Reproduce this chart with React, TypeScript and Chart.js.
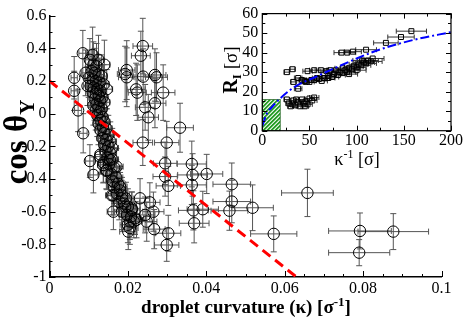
import React, { useEffect, useRef } from 'react';
import { Chart, registerables } from 'chart.js';
Chart.register(...registerables);

const W = 463;
const H = 320;
const SERIF = "'Liberation Serif', 'Times New Roman', serif";

// ---- main panel: rows of [kappa, cosTheta, kappaErr, cosErr] ----
const leftOutliers = [
  [0.0085, 0.37, 0.0010, 0.14], [0.0063, 0.22, 0.0008, 0.13], [0.0063, 0.14, 0.0008, 0.12],
  [0.0073, 0.02, 0.0009, 0.13], [0.0086, -0.12, 0.0010, 0.12], [0.0092, 0.25, 0.0010, 0.14],
  [0.0097, 0.17, 0.0010, 0.12], [0.0103, -0.29, 0.0011, 0.10], [0.0112, -0.375, 0.0012, 0.11],
  [0.0129, -0.263, 0.0013, 0.10],
];
const denseCluster = [
  [0.0110, 0.36, 0.0012, 0.17], [0.0125, 0.33, 0.0013, 0.15], [0.0140, 0.30, 0.0014, 0.15],
  [0.0103, 0.33, 0.0011, 0.13], [0.0112, 0.30, 0.0012, 0.14], [0.0120, 0.29, 0.0013, 0.14],
  [0.0108, 0.26, 0.0011, 0.13], [0.0115, 0.25, 0.0012, 0.15], [0.0125, 0.24, 0.0013, 0.12],
  [0.0133, 0.23, 0.0014, 0.13], [0.0100, 0.22, 0.0011, 0.12], [0.0110, 0.21, 0.0012, 0.14],
  [0.0118, 0.20, 0.0012, 0.13], [0.0128, 0.19, 0.0013, 0.15], [0.0138, 0.18, 0.0014, 0.12],
  [0.0105, 0.17, 0.0011, 0.13], [0.0113, 0.16, 0.0012, 0.12], [0.0122, 0.15, 0.0013, 0.14],
  [0.0146, 0.15, 0.0015, 0.12], [0.0130, 0.14, 0.0013, 0.13], [0.0110, 0.13, 0.0011, 0.12],
  [0.0118, 0.12, 0.0012, 0.11], [0.0126, 0.11, 0.0013, 0.14], [0.0135, 0.10, 0.0014, 0.12],
  [0.0115, 0.09, 0.0012, 0.13], [0.0129, 0.08, 0.0013, 0.11], [0.0140, 0.07, 0.0014, 0.12],
  [0.0120, 0.06, 0.0012, 0.14], [0.0112, 0.05, 0.0011, 0.12], [0.0125, 0.04, 0.0013, 0.11],
  [0.0133, 0.03, 0.0014, 0.13], [0.0118, 0.02, 0.0012, 0.12], [0.0128, 0.01, 0.0013, 0.11],
  [0.0122, -0.01, 0.0012, 0.13], [0.0135, -0.02, 0.0014, 0.12], [0.0130, -0.04, 0.0013, 0.11],
  [0.0140, -0.05, 0.0014, 0.12], [0.0125, -0.06, 0.0013, 0.13], [0.0136, -0.08, 0.0014, 0.11],
  [0.0145, -0.09, 0.0015, 0.12], [0.0130, -0.10, 0.0013, 0.12], [0.0140, -0.12, 0.0014, 0.11],
  [0.0150, -0.13, 0.0015, 0.12], [0.0135, -0.15, 0.0014, 0.13], [0.0145, -0.16, 0.0015, 0.11],
  [0.0155, -0.17, 0.0016, 0.12], [0.0140, -0.19, 0.0014, 0.12], [0.0150, -0.20, 0.0015, 0.11],
  [0.0160, -0.21, 0.0016, 0.12], [0.0143, -0.23, 0.0014, 0.12], [0.0155, -0.24, 0.0016, 0.11],
  [0.0130, -0.25, 0.0013, 0.12], [0.0148, -0.27, 0.0015, 0.11], [0.0160, -0.28, 0.0016, 0.12],
  [0.0138, -0.30, 0.0014, 0.12], [0.0152, -0.31, 0.0015, 0.11], [0.0165, -0.33, 0.0017, 0.12],
  [0.0145, -0.35, 0.0015, 0.11], [0.0158, -0.37, 0.0016, 0.12], [0.0170, -0.39, 0.0017, 0.11],
  [0.0160, -0.41, 0.0016, 0.12], [0.0175, -0.43, 0.0018, 0.11], [0.0165, -0.45, 0.0017, 0.10],
  [0.0180, -0.47, 0.0018, 0.11], [0.0172, -0.49, 0.0017, 0.10], [0.0185, -0.50, 0.0019, 0.11],
  [0.0195, -0.52, 0.0020, 0.10], [0.0178, -0.54, 0.0018, 0.11], [0.0190, -0.55, 0.0019, 0.10],
  [0.0200, -0.57, 0.0020, 0.11], [0.0210, -0.58, 0.0021, 0.10], [0.0185, -0.60, 0.0019, 0.11],
  [0.0198, -0.62, 0.0020, 0.10], [0.0208, -0.63, 0.0021, 0.11], [0.0215, -0.66, 0.0022, 0.10],
  [0.0200, -0.68, 0.0020, 0.11], [0.0205, -0.70, 0.0021, 0.10], [0.0163, -0.60, 0.0016, 0.11],
  [0.0163, -0.50, 0.0016, 0.12], [0.0193, -0.57, 0.0019, 0.11], [0.0205, -0.66, 0.0021, 0.11],
  [0.0159, -0.50, 0.0016, 0.12], [0.0154, -0.283, 0.0015, 0.11], [0.0171, -0.324, 0.0017, 0.11],
  [0.0146, -0.345, 0.0015, 0.12], [0.0137, -0.314, 0.0014, 0.11], [0.0184, -0.518, 0.0018, 0.11],
  [0.0180, -0.447, 0.0018, 0.11], [0.0163, -0.416, 0.0016, 0.11],
];
const middleGroup = [
  [0.0201, -0.722, 0.0022, 0.11], [0.0210, -0.589, 0.0021, 0.11], [0.0222, -0.65, 0.0023, 0.11],
  [0.0231, -0.518, 0.0024, 0.12], [0.0218, -0.64, 0.0022, 0.10], [0.0244, -0.62, 0.0025, 0.11],
  [0.0248, -0.661, 0.0026, 0.12], [0.0256, -0.543, 0.0026, 0.12], [0.0265, -0.60, 0.0027, 0.12],
  [0.0267, -0.707, 0.0028, 0.12], [0.0303, -0.732, 0.0032, 0.11], [0.0299, -0.804, 0.0031, 0.10],
];
const upperGroup = [
  [0.0238, 0.414, 0.0025, 0.17], [0.0233, 0.355, 0.0024, 0.15], [0.0197, 0.267, 0.0021, 0.18],
  [0.0193, 0.243, 0.0020, 0.17], [0.0197, 0.223, 0.0021, 0.18], [0.0239, 0.227, 0.0025, 0.17],
  [0.0269, 0.237, 0.0028, 0.16], [0.0273, 0.223, 0.0028, 0.15], [0.0221, 0.149, 0.0023, 0.16],
  [0.0224, 0.129, 0.0023, 0.17], [0.0290, 0.129, 0.0030, 0.17], [0.0269, 0.064, 0.0028, 0.15],
  [0.0244, 0.039, 0.0025, 0.14], [0.0252, -0.022, 0.0026, 0.14], [0.0333, -0.086, 0.0034, 0.15],
  [0.0238, -0.177, 0.0025, 0.14], [0.0299, -0.177, 0.0031, 0.13],
];
const rightGroup = [
  [0.0295, -0.304, 0.0030, 0.13], [0.0295, -0.385, 0.0031, 0.12], [0.0303, -0.442, 0.0031, 0.12],
  [0.0363, -0.308, 0.0037, 0.14], [0.0365, -0.375, 0.0038, 0.13], [0.0363, -0.436, 0.0037, 0.12],
  [0.0401, -0.369, 0.0041, 0.12], [0.0367, -0.592, 0.0038, 0.12], [0.0391, -0.585, 0.0040, 0.11],
  [0.0369, -0.671, 0.0038, 0.12], [0.0465, -0.432, 0.0048, 0.13], [0.0465, -0.538, 0.0048, 0.13],
  [0.0459, -0.594, 0.0047, 0.12], [0.0518, -0.576, 0.0053, 0.14], [0.0572, -0.736, 0.0059, 0.11],
  [0.0658, -0.485, 0.0066, 0.145], [0.0792, -0.718, 0.0080, 0.11], [0.0877, -0.722, 0.0090, 0.11],
  [0.0790, -0.851, 0.0078, 0.08],
];
const fitKappa = [0, 0.063];
const fitCos = [0.2, -1];

const mainXTicks = [0, 0.02, 0.04, 0.06, 0.08, 0.1];
const mainXLabels = ['0', '0.02', '0.04', '0.06', '0.08', '0.1'];
const mainYTicks = [-1, -0.8, -0.6, -0.4, -0.2, 0, 0.2, 0.4, 0.6];
const mainYLabels = ['-1', '-0.8', '-0.6', '-0.4', '-0.2', '0', '0.2', '0.4', '0.6'];

// ---- inset: rows of [1/kappa, R_I, xErr] ----
const insetFar = [
  [158, 51, 16], [147, 48, 14], [131, 45, 13], [110, 41.5, 11], [96, 40.5, 9], [90, 40, 9], [84, 40, 8],
];
const insetUpperLeft = [
  [26, 30, 3], [32, 31.5, 3], [33, 25, 3], [38, 27, 4], [38, 21.5, 4], [42, 26, 4], [48, 30.5, 5],
  [46, 25, 4], [52, 26, 5], [55, 31, 5], [58, 27, 5], [62, 31, 6], [65, 27, 6], [68, 30.5, 6],
  [70, 28, 7], [72, 31, 7],
];
const insetBand = [
  [45, 25.5, 4], [50, 25, 5], [55, 26, 5], [60, 26.5, 6], [63, 25.5, 6], [66, 27, 6], [70, 27, 7],
  [74, 27.5, 7], [76, 29, 7], [80, 28.5, 8], [82, 30, 8], [85, 29.5, 8], [88, 31, 9], [90, 30, 9],
  [92, 32, 9], [95, 31.5, 9], [97, 33, 10], [100, 32.5, 10], [102, 34, 10], [105, 33.5, 10],
  [108, 35, 11], [110, 34.5, 11], [112, 36, 11], [115, 35.5, 12], [117, 37, 12], [85, 32, 8],
  [78, 31, 8], [92, 29, 9], [100, 31, 10], [106, 36, 10],
];
const insetLower = [
  [26, 16, 3], [28, 14, 3], [30, 12.5, 3], [33, 15.5, 3], [35, 13, 3], [38, 14.5, 4], [40, 12.5, 4],
  [42, 16, 4], [44, 14, 4], [46, 15, 4], [48, 13.5, 5], [50, 16.5, 5], [53, 15.5, 5], [55, 17, 5],
  [32, 13.5, 3], [36, 16, 3], [45, 12.5, 4],
];
const fitInvKappa = [0, 5, 10, 18.6, 36, 54, 72, 100, 124, 160, 200];
const fitRadius = [2.5, 9, 12, 16.4, 23, 27, 31, 37, 41.5, 46.5, 50.5];
const hatchInvKappa = [0, 19];
const hatchRadius = [0, 16];

const insetXTicks = [0, 50, 100, 150, 200];
const insetXLabels = ['0', '50', '100', '150', '200'];
const insetYTicks = [0, 10, 20, 30, 40, 50, 60];
const insetYLabels = ['0', '10', '20', '30', '40', '50', '60'];

type Seg = { text: string; font: string; dy?: number };

function drawRich(ctx: CanvasRenderingContext2D, segs: Seg[], x: number, y: number, angle: number) {
  ctx.save();
  ctx.translate(x, y);
  ctx.rotate(angle);
  ctx.fillStyle = '#000';
  ctx.textBaseline = 'alphabetic';
  ctx.textAlign = 'left';
  let total = 0;
  segs.forEach((s) => { ctx.font = s.font; total += ctx.measureText(s.text).width; });
  let cx = -total / 2;
  segs.forEach((s) => {
    ctx.font = s.font;
    ctx.fillText(s.text, cx, s.dy || 0);
    cx += ctx.measureText(s.text).width;
  });
  ctx.restore();
}

function titlesPlugin(items: { segs: Seg[]; x: number; y: number; angle: number }[]) {
  return {
    id: 'richTitles',
    afterDraw(chart: any) {
      items.forEach((it) => drawRich(chart.ctx, it.segs, it.x, it.y, it.angle));
    },
  };
}

function errorBarsPlugin(color: string, cap: number) {
  return {
    id: 'errorBars',
    beforeDatasetsDraw(chart: any) {
      const ctx = chart.ctx as CanvasRenderingContext2D;
      const xs = chart.scales.x;
      const ys = chart.scales.y;
      ctx.save();
      ctx.strokeStyle = color;
      ctx.lineWidth = 1;
      chart.data.datasets.forEach((ds: any) => {
        const rows = ds.errRows as number[][] | undefined;
        if (!rows) return;
        rows.forEach((r) => {
          const cx = xs.getPixelForValue(r[0]);
          const cy = ys.getPixelForValue(r[1]);
          const ex = r[2] || 0;
          const ey = r[3] || 0;
          ctx.beginPath();
          if (ex) {
            const x1 = xs.getPixelForValue(r[0] - ex);
            const x2 = xs.getPixelForValue(r[0] + ex);
            ctx.moveTo(x1, cy); ctx.lineTo(x2, cy);
            ctx.moveTo(x1, cy - cap); ctx.lineTo(x1, cy + cap);
            ctx.moveTo(x2, cy - cap); ctx.lineTo(x2, cy + cap);
          }
          if (ey) {
            const y1 = ys.getPixelForValue(r[1] - ey);
            const y2 = ys.getPixelForValue(r[1] + ey);
            ctx.moveTo(cx, y1); ctx.lineTo(cx, y2);
            ctx.moveTo(cx - cap, y1); ctx.lineTo(cx + cap, y1);
            ctx.moveTo(cx - cap, y2); ctx.lineTo(cx + cap, y2);
          }
          ctx.stroke();
        });
      });
      ctx.restore();
    },
  };
}

function subdivide(vals: number[], parts: number) {
  const out: number[] = [];
  for (let i = 0; i < vals.length - 1; i++) {
    for (let k = 1; k < parts; k++) out.push(vals[i] + ((vals[i + 1] - vals[i]) * k) / parts);
  }
  return out;
}

function innerTicksPlugin(cfg: {
  xMajor: number[]; xMinor: number[]; yMajor: number[]; yMinor: number[];
  major: number; minor: number; box: boolean;
}) {
  return {
    id: 'innerTicks',
    afterDatasetsDraw(chart: any) {
      const ctx = chart.ctx as CanvasRenderingContext2D;
      const a = chart.chartArea;
      const xs = chart.scales.x;
      const ys = chart.scales.y;
      ctx.save();
      ctx.strokeStyle = '#000';
      ctx.lineWidth = 1;
      const ln = (x1: number, y1: number, x2: number, y2: number) => {
        ctx.beginPath(); ctx.moveTo(x1, y1); ctx.lineTo(x2, y2); ctx.stroke();
      };
      const doX = (vals: number[], len: number) => vals.forEach((v) => {
        const p = Math.round(xs.getPixelForValue(v)) + 0.5;
        ln(p, a.bottom, p, a.bottom - len);
        if (cfg.box) ln(p, a.top, p, a.top + len);
      });
      const doY = (vals: number[], len: number) => vals.forEach((v) => {
        const p = Math.round(ys.getPixelForValue(v)) + 0.5;
        ln(a.left, p, a.left + len, p);
        if (cfg.box) ln(a.right, p, a.right - len, p);
      });
      doX(cfg.xMajor, cfg.major); doX(cfg.xMinor, cfg.minor);
      doY(cfg.yMajor, cfg.major); doY(cfg.yMinor, cfg.minor);
      if (cfg.box) {
        ctx.lineWidth = 1.2;
        ctx.strokeRect(a.left, a.top, a.right - a.left, a.bottom - a.top);
      }
      ctx.restore();
    },
  };
}

const hatchPlugin = {
  id: 'hatch',
  beforeDatasetsDraw(chart: any) {
    const ctx = chart.ctx as CanvasRenderingContext2D;
    const xs = chart.scales.x;
    const ys = chart.scales.y;
    const x1 = xs.getPixelForValue(hatchInvKappa[0]);
    const x2 = xs.getPixelForValue(hatchInvKappa[1]);
    const y1 = ys.getPixelForValue(hatchRadius[1]);
    const y2 = ys.getPixelForValue(hatchRadius[0]);
    ctx.save();
    ctx.beginPath();
    ctx.rect(x1, y1, x2 - x1, y2 - y1);
    ctx.clip();
    ctx.strokeStyle = '#1f9a1f';
    ctx.lineWidth = 1.8;
    for (let s = -(y2 - y1); s < x2 - x1 + (y2 - y1); s += 4) {
      ctx.beginPath();
      ctx.moveTo(x1 + s, y2);
      ctx.lineTo(x1 + s + (y2 - y1), y1);
      ctx.stroke();
    }
    ctx.restore();
    ctx.save();
    ctx.strokeStyle = '#2a6a2a';
    ctx.lineWidth = 0.8;
    ctx.strokeRect(x1, y1, x2 - x1, y2 - y1);
    ctx.restore();
  },
};

const whiteAreaPlugin = {
  id: 'whiteArea',
  beforeDraw(chart: any) {
    const a = chart.chartArea;
    const ctx = chart.ctx as CanvasRenderingContext2D;
    ctx.save();
    ctx.fillStyle = '#fff';
    ctx.fillRect(a.left, a.top, a.right - a.left, a.bottom - a.top);
    ctx.restore();
  },
};

const labelFrom = (vals: number[], labels: string[]) => (v: any) => {
  const i = vals.findIndex((t) => Math.abs(t - Number(v)) < 1e-9);
  return i >= 0 ? labels[i] : '';
};

export default function App() {
  const mainRef = useRef<HTMLCanvasElement | null>(null);
  const insetRef = useRef<HTMLCanvasElement | null>(null);

  useEffect(() => {
    const mainRows = [...leftOutliers, ...denseCluster, ...middleGroup, ...upperGroup, ...rightGroup];
    const insetRows = [...insetFar, ...insetUpperLeft, ...insetBand, ...insetLower];
    const tickFont = { family: SERIF, size: 16 };

    const main = new Chart(mainRef.current as HTMLCanvasElement, {
      type: 'scatter',
      data: {
        datasets: [
          {
            type: 'line',
            data: fitKappa.map((k, i) => ({ x: k, y: fitCos[i] })),
            borderColor: '#ff0000',
            borderWidth: 3,
            borderDash: [10, 6],
            pointRadius: 0,
            fill: false,
          } as any,
          {
            data: mainRows.map((r) => ({ x: r[0], y: r[1] })),
            errRows: mainRows,
            pointStyle: 'circle',
            pointRadius: 5.7,
            borderColor: '#000',
            backgroundColor: 'rgba(0,0,0,0)',
            borderWidth: 1,
          } as any,
        ],
      },
      options: {
        animation: false,
        responsive: false,
        events: [],
        layout: { padding: { top: 15.7, right: 21.5, left: 0, bottom: 0 } },
        plugins: { legend: { display: false }, tooltip: { enabled: false } },
        scales: {
          x: {
            type: 'linear', min: 0, max: 0.1,
            afterFit: (s: any) => { s.height = 43; },
            afterBuildTicks: (s: any) => { s.ticks = mainXTicks.map((v) => ({ value: v })); },
            ticks: { font: tickFont, color: '#000', padding: 2, maxRotation: 0, autoSkip: false, callback: labelFrom(mainXTicks, mainXLabels) },
            grid: { display: false, drawTicks: false },
            border: { display: true, color: '#000', width: 1.5 },
          },
          y: {
            type: 'linear', min: -1, max: 0.6,
            afterFit: (s: any) => { s.width = 49.5; },
            afterBuildTicks: (s: any) => { s.ticks = mainYTicks.map((v) => ({ value: v })); },
            ticks: { font: tickFont, color: '#000', padding: 3, autoSkip: false, callback: labelFrom(mainYTicks, mainYLabels) },
            grid: { display: false, drawTicks: false },
            border: { display: true, color: '#000', width: 1.5 },
          },
        },
      },
      plugins: [
        errorBarsPlugin('#555', 3),
        innerTicksPlugin({
          xMajor: mainXTicks, xMinor: subdivide(mainXTicks, 4),
          yMajor: mainYTicks, yMinor: subdivide(mainYTicks, 2),
          major: 6, minor: 3, box: false,
        }),
        titlesPlugin([
          {
            segs: [
              { text: 'droplet curvature (κ) [σ', font: `bold 19px ${SERIF}` },
              { text: '-1', font: `bold 13px ${SERIF}`, dy: -7 },
              { text: ']', font: `bold 19px ${SERIF}` },
            ],
            x: 246, y: 313, angle: 0,
          },
          {
            segs: [
              { text: 'cos θ', font: `bold 33px ${SERIF}` },
              { text: 'Y', font: `bold 21px ${SERIF}`, dy: 7 },
            ],
            x: 27, y: 142, angle: -Math.PI / 2,
          },
        ]),
      ],
    } as any);

    const inset = new Chart(insetRef.current as HTMLCanvasElement, {
      type: 'scatter',
      data: {
        datasets: [
          {
            type: 'line',
            data: fitInvKappa.map((k, i) => ({ x: k, y: fitRadius[i] })),
            borderColor: '#0000ff',
            borderWidth: 2,
            borderDash: [9, 3, 2, 3],
            pointRadius: 0,
            cubicInterpolationMode: 'monotone',
            fill: false,
          } as any,
          {
            data: insetRows.map((r) => ({ x: r[0], y: r[1] })),
            errRows: insetRows,
            pointStyle: 'rect',
            pointRadius: 3.5,
            borderColor: '#000',
            backgroundColor: 'rgba(0,0,0,0)',
            borderWidth: 1,
          } as any,
        ],
      },
      options: {
        animation: false,
        responsive: false,
        events: [],
        layout: { padding: { top: 6.7, right: 11.3, left: 0, bottom: 0 } },
        plugins: { legend: { display: false }, tooltip: { enabled: false } },
        scales: {
          x: {
            type: 'linear', min: 0, max: 200,
            afterFit: (s: any) => { s.height = 189.3; },
            afterBuildTicks: (s: any) => { s.ticks = insetXTicks.map((v) => ({ value: v })); },
            ticks: { font: tickFont, color: '#000', padding: 0, maxRotation: 0, autoSkip: false, callback: labelFrom(insetXTicks, insetXLabels) },
            grid: { display: false, drawTicks: false },
            border: { display: false },
          },
          y: {
            type: 'linear', min: 0, max: 60,
            afterFit: (s: any) => { s.width = 262.3; },
            afterBuildTicks: (s: any) => { s.ticks = insetYTicks.map((v) => ({ value: v })); },
            ticks: { font: tickFont, color: '#000', padding: 4, autoSkip: false, callback: labelFrom(insetYTicks, insetYLabels) },
            grid: { display: false, drawTicks: false },
            border: { display: false },
          },
        },
      },
      plugins: [
        whiteAreaPlugin,
        hatchPlugin,
        errorBarsPlugin('#333', 2.5),
        innerTicksPlugin({
          xMajor: insetXTicks, xMinor: subdivide(insetXTicks, 2),
          yMajor: insetYTicks, yMinor: subdivide(insetYTicks, 2),
          major: 5, minor: 3, box: true,
        }),
        titlesPlugin([
          {
            segs: [
              { text: 'κ', font: `18px ${SERIF}` },
              { text: '-1', font: `12px ${SERIF}`, dy: -7 },
              { text: ' [σ]', font: `18px ${SERIF}` },
            ],
            x: 357, y: 165, angle: 0,
          },
          {
            segs: [
              { text: 'R', font: `bold 20px ${SERIF}` },
              { text: 'I', font: `bold 13px ${SERIF}`, dy: 4 },
              { text: ' [σ]', font: `19px ${SERIF}` },
            ],
            x: 237, y: 70, angle: -Math.PI / 2,
          },
        ]),
      ],
    } as any);

    return () => { main.destroy(); inset.destroy(); };
  }, []);

  return (
    <div style={{ position: 'absolute', left: 0, top: 0, width: W, height: H, background: '#fff' }}>
      <canvas ref={mainRef} width={W} height={H} style={{ position: 'absolute', left: 0, top: 0 }} />
      <canvas ref={insetRef} width={W} height={H} style={{ position: 'absolute', left: 0, top: 0 }} />
    </div>
  );
}
